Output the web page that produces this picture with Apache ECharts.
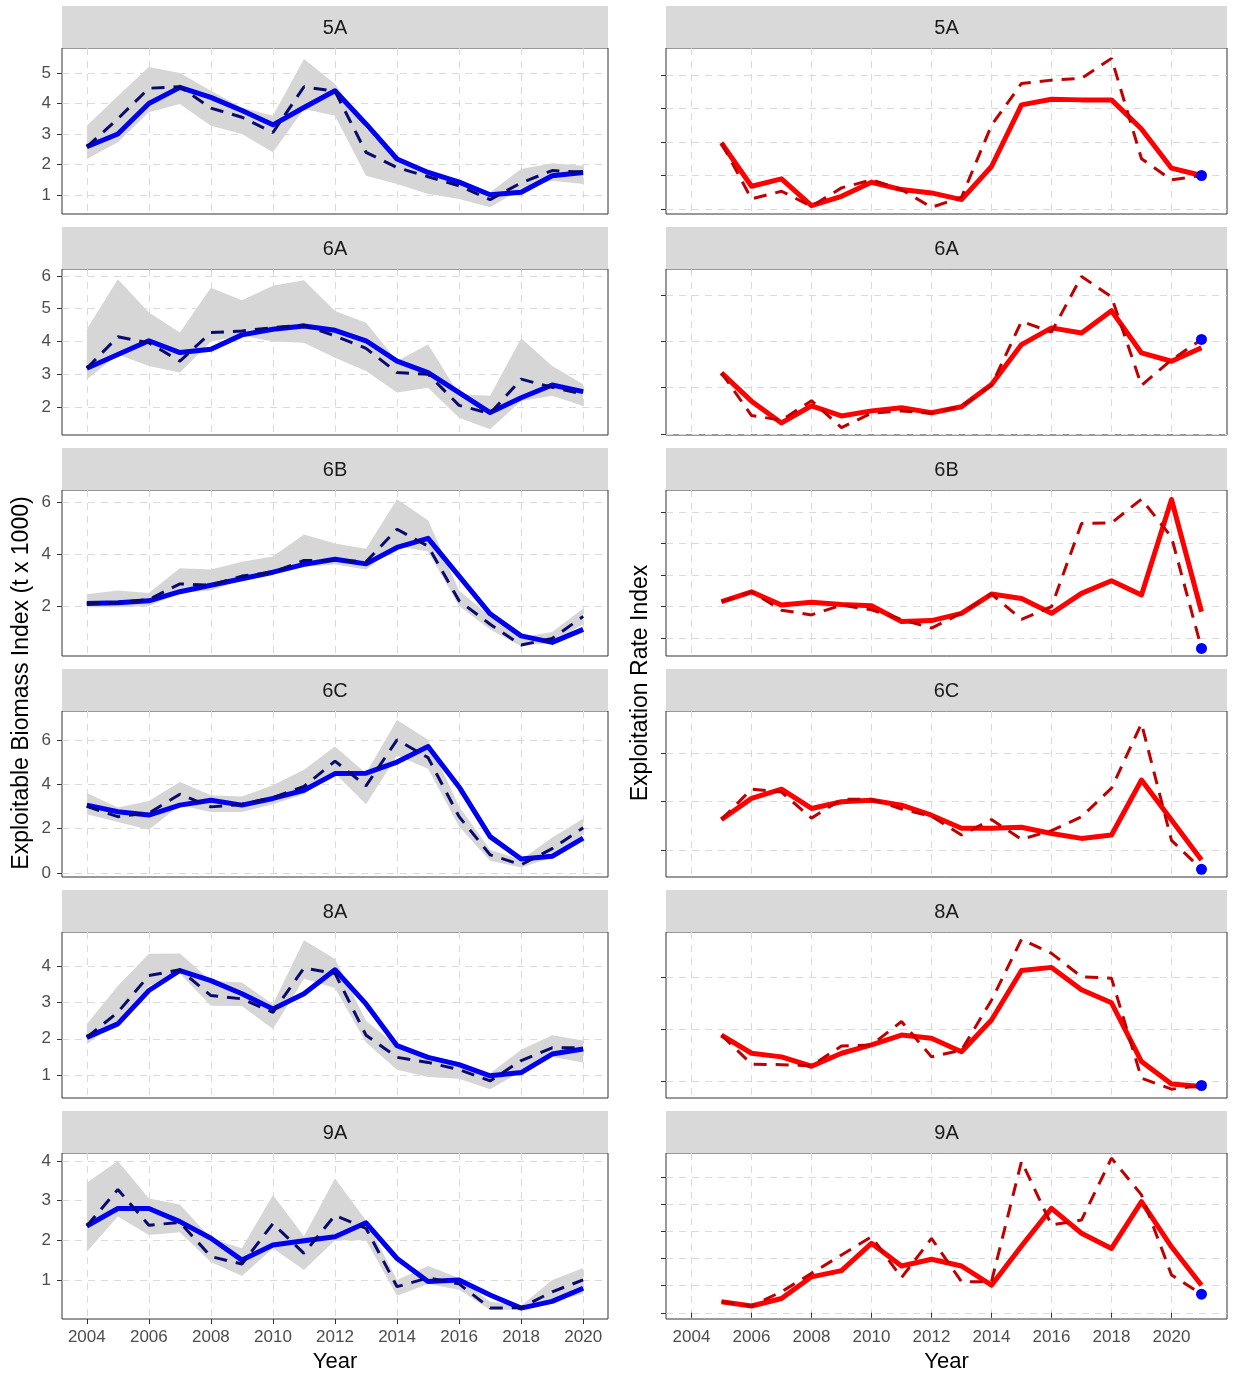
<!DOCTYPE html>
<html><head><meta charset="utf-8">
<script src="https://cdn.jsdelivr.net/npm/echarts@6.0.0/dist/echarts.min.js"></script>
<style>html,body{margin:0;padding:0;background:#fff}#c{width:1233px;height:1375px}</style>
</head><body><div id="c"></div>
<script>
// ---------- data ----------
const regions = ['5A','6A','6B','6C','8A','9A'];
const biomassYears = [2004,2005,2006,2007,2008,2009,2010,2011,2012,2013,2014,2015,2016,2017,2018,2019,2020];
const exploitYears = [2005,2006,2007,2008,2009,2010,2011,2012,2013,2014,2015,2016,2017,2018,2019,2020,2021];
const xTickYears = [2004,2006,2008,2010,2012,2014,2016,2018,2020];

// Exploitable biomass (t x 1000): model fit (solid), survey index (dashed), index CI (ribbon)
const bioFit_5A  = [2.58,3.0,4.0,4.53,4.2,3.77,3.3,3.87,4.42,3.33,2.18,1.74,1.42,1.01,1.09,1.63,1.74];
const bioObs_5A  = [2.58,3.5,4.5,4.55,3.85,3.55,3.05,4.55,4.4,2.4,1.9,1.6,1.3,0.85,1.4,1.8,1.75];
const bioHi_5A   = [3.27,4.25,5.2,5.0,4.42,3.87,3.6,5.46,4.64,3.16,2.13,1.85,1.52,1.09,1.85,2.04,1.96];
const bioLo_5A   = [2.18,2.73,3.71,3.98,3.27,3.0,2.4,3.82,3.6,1.63,1.36,1.03,0.87,0.6,1.2,1.47,1.36];

const bioFit_6A  = [3.18,3.6,4.02,3.66,3.76,4.2,4.37,4.47,4.34,4.02,3.4,3.05,2.44,1.83,2.28,2.67,2.47];
const bioObs_6A  = [3.18,4.14,3.96,3.4,4.27,4.32,4.42,4.5,4.17,3.79,3.05,3.0,2.05,1.8,2.85,2.6,2.39];
const bioHi_6A   = [4.37,5.9,4.88,4.27,5.64,5.26,5.7,5.87,4.93,4.57,3.4,3.91,2.39,2.34,4.1,3.25,2.69];
const bioLo_6A   = [2.84,3.6,3.25,3.05,4.0,4.17,4.0,3.96,3.5,3.1,2.44,2.59,1.67,1.32,2.18,2.34,2.03];

const bioFit_6B  = [2.1,2.12,2.2,2.55,2.8,3.05,3.3,3.6,3.8,3.62,4.25,4.6,3.15,1.7,0.85,0.6,1.1];
const bioObs_6B  = [2.1,2.12,2.25,2.85,2.8,3.15,3.3,3.75,3.75,3.7,4.95,4.3,2.2,1.3,0.5,0.75,1.6];
const bioHi_6B   = [2.45,2.6,2.5,3.45,3.4,3.7,3.9,4.75,4.4,4.2,6.1,5.3,2.6,1.6,0.8,1.0,1.9];
const bioLo_6B   = [1.95,1.95,2.0,2.5,2.6,3.0,3.2,3.5,3.6,3.4,4.3,4.1,2.0,1.1,0.45,0.6,1.3];

const bioFit_6C  = [3.06,2.76,2.61,3.06,3.28,3.06,3.36,3.73,4.48,4.5,5.0,5.7,3.88,1.64,0.63,0.75,1.57];
const bioObs_6C  = [3.0,2.54,2.7,3.55,2.98,3.1,3.4,3.9,5.04,3.93,6.0,5.2,2.54,0.82,0.37,1.1,2.04];
const bioHi_6C   = [3.6,2.95,3.25,4.1,3.5,3.45,3.95,4.65,5.7,4.5,6.9,6.0,3.0,1.05,0.6,1.6,2.45];
const bioLo_6C   = [2.65,2.3,1.95,3.05,2.75,2.75,3.1,3.55,4.5,3.1,5.3,4.7,2.1,0.55,0.25,0.7,1.75];

const bioFit_8A  = [2.04,2.41,3.33,3.88,3.6,3.24,2.82,3.24,3.9,2.96,1.81,1.49,1.29,0.98,1.07,1.58,1.72];
const bioObs_8A  = [2.04,2.73,3.74,3.9,3.19,3.1,2.73,3.95,3.8,2.1,1.49,1.35,1.15,0.84,1.4,1.75,1.75];
const bioHi_8A   = [2.41,3.45,4.34,4.35,3.6,3.55,2.95,4.71,4.2,2.5,1.8,1.55,1.35,1.05,1.7,2.1,1.95];
const bioLo_8A   = [1.85,2.5,3.45,3.8,2.91,2.9,2.27,3.65,3.4,1.9,1.15,0.95,0.9,0.61,1.1,1.5,1.35];

const bioFit_9A  = [2.36,2.8,2.8,2.47,2.05,1.5,1.88,1.99,2.09,2.44,1.54,0.96,1.0,0.62,0.29,0.46,0.79];
const bioObs_9A  = [2.36,3.28,2.38,2.45,1.59,1.4,2.42,1.67,2.63,2.3,0.83,1.05,0.9,0.29,0.3,0.7,1.0];
const bioHi_9A   = [3.45,4.0,3.05,2.9,2.05,1.8,3.14,2.1,3.56,2.5,1.0,1.35,1.05,0.45,0.35,1.0,1.3];
const bioLo_9A   = [1.71,2.6,2.13,2.2,1.45,1.1,1.8,1.25,2.0,2.0,0.6,0.9,0.75,0.25,0.25,0.45,0.65];

// Exploitation rate index (unlabelled units): model (solid), catch/index (dashed), terminal point (dot)
const expFit_5A = [1.97,0.68,0.9,0.1,0.38,0.8,0.58,0.48,0.28,1.27,3.11,3.28,3.26,3.26,2.39,1.22,1.0];
const expObs_5A = [1.97,0.3,0.53,0.08,0.63,0.87,0.58,0.05,0.35,2.5,3.75,3.85,3.9,4.5,1.5,0.87,1.0];
const expDot_5A = 1.0;

const expFit_6A = [1.32,0.71,0.24,0.61,0.39,0.5,0.57,0.46,0.59,1.07,1.93,2.29,2.18,2.66,1.75,1.57,1.86];
const expObs_6A = [1.32,0.4,0.3,0.72,0.14,0.45,0.5,0.45,0.6,1.05,2.43,2.2,3.4,2.96,1.05,1.6,2.04];
const expDot_6A = 2.04;

const expFit_6B = [1.16,1.47,1.05,1.14,1.07,1.03,0.53,0.56,0.79,1.4,1.26,0.79,1.42,1.82,1.37,4.39,0.84];
const expObs_6B = [1.16,1.47,0.89,0.74,1.05,0.9,0.6,0.32,0.8,1.4,0.6,1.0,3.63,3.65,4.4,3.2,-0.32];
const expDot_6B = -0.32;

const expFit_6C = [0.63,1.07,1.26,0.86,1.0,1.03,0.93,0.72,0.45,0.45,0.47,0.34,0.24,0.31,1.45,0.62,-0.21];
const expObs_6C = [0.63,1.26,1.2,0.66,1.05,1.05,0.85,0.7,0.31,0.63,0.22,0.4,0.69,1.28,2.62,0.2,-0.4];
const expDot_6C = -0.4;

const expFit_8A = [0.89,0.54,0.47,0.29,0.54,0.7,0.89,0.83,0.57,1.18,2.13,2.19,1.76,1.51,0.38,-0.05,-0.1];
const expObs_8A = [0.89,0.33,0.32,0.3,0.68,0.7,1.15,0.47,0.6,1.56,2.73,2.46,2.01,1.98,0.06,-0.15,-0.08];
const expDot_8A = -0.08;

const expFit_9A = [0.41,0.25,0.53,1.33,1.56,2.57,1.73,1.98,1.73,1.02,2.47,3.86,2.94,2.38,4.11,2.44,1.02];
const expObs_9A = [0.41,0.25,0.78,1.46,2.14,2.81,1.3,2.75,1.15,1.15,5.6,3.25,3.43,5.72,4.36,1.4,0.69];
const expDot_9A = 0.69;

// y tick values
const bioTicks_5A = [1,2,3,4,5];
const bioTicks_6A = [2,3,4,5,6];
const bioTicks_6B = [2,4,6];
const bioTicks_6C = [0,2,4,6];
const bioTicks_8A = [1,2,3,4];
const bioTicks_9A = [1,2,3,4];
const expTicks_5A = [0,1,2,3,4];
const expTicks_6A = [0,1,2,3];
const expTicks_6B = [0,1,2,3,4];
const expTicks_6C = [0,1,2];
const expTicks_8A = [0,1,2];
const expTicks_9A = [0,1,2,3,4,5];

// ---------- assembly ----------
const bioPanels = [
  {fit:bioFit_5A, obs:bioObs_5A, hi:bioHi_5A, lo:bioLo_5A, ticks:bioTicks_5A, min:0.377, max:5.82},
  {fit:bioFit_6A, obs:bioObs_6A, hi:bioHi_6A, lo:bioLo_6A, ticks:bioTicks_6A, min:1.145, max:6.21},
  {fit:bioFit_6B, obs:bioObs_6B, hi:bioHi_6B, lo:bioLo_6B, ticks:bioTicks_6B, min:0.077, max:6.46},
  {fit:bioFit_6C, obs:bioObs_6C, hi:bioHi_6C, lo:bioLo_6C, ticks:bioTicks_6C, min:-0.18, max:7.3},
  {fit:bioFit_8A, obs:bioObs_8A, hi:bioHi_8A, lo:bioLo_8A, ticks:bioTicks_8A, min:0.37, max:4.94},
  {fit:bioFit_9A, obs:bioObs_9A, hi:bioHi_9A, lo:bioLo_9A, ticks:bioTicks_9A, min:0.015, max:4.2}
];
const expPanels = [
  {fit:expFit_5A, obs:expObs_5A, dot:expDot_5A, ticks:expTicks_5A, min:-0.15, max:4.81},
  {fit:expFit_6A, obs:expObs_6A, dot:expDot_6A, ticks:expTicks_6A, min:-0.02, max:3.56},
  {fit:expFit_6B, obs:expObs_6B, dot:expDot_6B, ticks:expTicks_6B, min:-0.56, max:4.69},
  {fit:expFit_6C, obs:expObs_6C, dot:expDot_6C, ticks:expTicks_6C, min:-0.56, max:2.88},
  {fit:expFit_8A, obs:expObs_8A, dot:expDot_8A, ticks:expTicks_8A, min:-0.32, max:2.87},
  {fit:expFit_9A, obs:expObs_9A, dot:expDot_9A, ticks:expTicks_9A, min:-0.23, max:5.91}
];

const FONT = 'Liberation Sans, Arial, sans-serif';
const ROW = 221, TOP0 = 48, PH = 166;
const LX = 62, LW = 546, RX = 666, RW = 561;
const gridLine = {show:true, lineStyle:{color:'#dadada', width:1, type:[7,6]}};

const grids = [], xAxes = [], yAxes = [], series = [], graphics = [];
const zip = (xs, ys) => xs.map((x,i)=>[x, ys[i]]);

function addAxes(gi, left, width, row, xmin, xmax, ticks, ymin, ymax, showYLabels) {
  const top = TOP0 + ROW*row;
  grids.push({left:left, top:top, width:width, height:PH, containLabel:false, outerBoundsMode:'none',
    show:true, borderColor:'#333', borderWidth:1, backgroundColor:'#fff'});
  const bottom = row === 5;
  xAxes.push({type:'value', gridIndex:gi, min:xmin, max:xmax,
    axisLine:{show:false},
    axisTick:{show:bottom, length:5, lineStyle:{color:'#333'}, customValues:xTickYears},
    axisLabel:{show:bottom, customValues:xTickYears, formatter:(v)=>String(Math.round(v)),
      color:'#4d4d4d', fontSize:17, fontFamily:FONT, margin:10},
    splitLine:gridLine, minorSplitLine:{show:false}});
  yAxes.push({type:'value', gridIndex:gi, min:ymin, max:ymax,
    axisLine:{show:false},
    axisTick:{show:true, length:5, lineStyle:{color:'#333'}, customValues:ticks},
    axisLabel:{show:showYLabels, customValues:ticks, formatter:(v)=>String(Math.round(v)),
      color:'#4d4d4d', fontSize:17, fontFamily:FONT, margin:11},
    splitLine:gridLine});
  graphics.push({type:'rect', shape:{x:left, y:top-42, width:width, height:42}, style:{fill:'#d9d9d9'}, silent:true});
  graphics.push({type:'text', x:left+width/2, y:top-20, style:{text:regions[row], fontSize:20, fontFamily:FONT, fill:'#1a1a1a', align:'center', verticalAlign:'middle'}, silent:true});
}

bioPanels.forEach((p, r) => {
  const gi = grids.length;
  addAxes(gi, LX, LW, r, 2003.2, 2020.8, p.ticks, p.min, p.max, true);
  const ribbonData = biomassYears.map((y,i)=>[y, p.lo[i], p.hi[i]]);
  series.push({type:'custom', xAxisIndex:gi, yAxisIndex:gi, data:ribbonData, silent:true, z:1,
    encode:{x:0, y:[1,2]}, clip:true,
    renderItem:(params, api) => {
      if (params.dataIndex !== 0) return null;
      const upper = ribbonData.map(d => api.coord([d[0], d[2]]));
      const lower = ribbonData.map(d => api.coord([d[0], d[1]])).reverse();
      return {type:'polygon', shape:{points:upper.concat(lower)}, style:{fill:'#d6d6d6'}};
    }});
  series.push({type:'line', xAxisIndex:gi, yAxisIndex:gi, data:zip(biomassYears, p.fit),
    symbol:'none', lineStyle:{color:'#0000ee', width:5, join:'round'}, silent:true, z:3});
  series.push({type:'line', xAxisIndex:gi, yAxisIndex:gi, data:zip(biomassYears, p.obs),
    symbol:'none', lineStyle:{color:'#0a0a6e', width:3, type:[13,9]}, silent:true, z:4});
});

expPanels.forEach((p, r) => {
  const gi = grids.length;
  addAxes(gi, RX, RW, r, 2003.15, 2021.85, p.ticks, p.min, p.max, false);
  series.push({type:'line', xAxisIndex:gi, yAxisIndex:gi, data:zip(exploitYears, p.fit),
    symbol:'none', lineStyle:{color:'#ff0000', width:5, join:'round'}, silent:true, z:3});
  series.push({type:'line', xAxisIndex:gi, yAxisIndex:gi, data:zip(exploitYears, p.obs),
    symbol:'none', lineStyle:{color:'#c00000', width:3, type:[13,9]}, silent:true, z:4});
  series.push({type:'scatter', xAxisIndex:gi, yAxisIndex:gi, data:[[exploitYears[exploitYears.length-1], p.dot]],
    symbol:'circle', symbolSize:11, itemStyle:{color:'#0000ff', opacity:1}, silent:true, z:5});
});

graphics.push({type:'text', x:LX+LW/2, y:1362, style:{text:'Year', fontSize:22, fontFamily:FONT, fill:'#000', align:'center', verticalAlign:'middle'}});
graphics.push({type:'text', x:RX+RW/2, y:1362, style:{text:'Year', fontSize:22, fontFamily:FONT, fill:'#000', align:'center', verticalAlign:'middle'}});
graphics.push({type:'text', x:22, y:683, rotation:Math.PI/2, style:{text:'Exploitable Biomass Index (t x 1000)', fontSize:23, fontFamily:FONT, fill:'#000', align:'center', verticalAlign:'middle'}});
graphics.push({type:'text', x:641, y:683, rotation:Math.PI/2, style:{text:'Exploitation Rate Index', fontSize:23, fontFamily:FONT, fill:'#000', align:'center', verticalAlign:'middle'}});

const chart = echarts.init(document.getElementById('c'), null, {renderer:'canvas'});
chart.setOption({
  animation:false,
  backgroundColor:'#fff',
  grid:grids, xAxis:xAxes, yAxis:yAxes, series:series,
  graphic:graphics
});
</script>
</body></html>
